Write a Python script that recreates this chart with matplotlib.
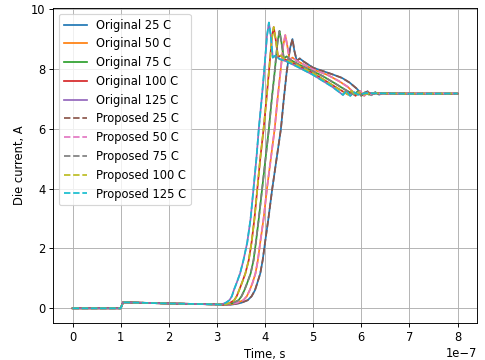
import numpy as np
import matplotlib.pyplot as plt

# temperatures and waveforms (time in ns, current in A)
temps = [25, 50, 75, 100, 125]

t_25 = [0, 100, 105, 200, 300, 330, 350, 364, 372, 379, 384, 390, 395, 400, 407, 415, 424, 433, 439, 445, 452, 457,
        461, 466, 472, 480, 500, 540, 560, 576, 590, 602, 613, 621, 629, 637, 645, 660, 700, 800]
i_25 = [0, 0, 0.2, 0.16, 0.13, 0.12, 0.18, 0.27, 0.4, 0.6, 0.85, 1.16, 1.6, 2.2, 3.0, 4.0, 5.0, 6.0, 7.0, 7.9, 8.7, 9.0,
        8.6, 8.27, 8.35, 8.25, 8.04, 7.82, 7.7, 7.54, 7.35, 7.15, 7.25, 7.12, 7.22, 7.14, 7.19, 7.17, 7.18, 7.17]

t_50 = [0, 100, 105, 200, 300, 325, 342, 355, 362, 368, 374, 380, 385, 390, 397, 404, 412, 420, 426, 432, 438, 442,
        446, 451, 457, 465, 500, 530, 555, 572, 588, 598, 606, 614, 621, 629, 645, 700, 800]
i_50 = [0, 0, 0.2, 0.16, 0.13, 0.12, 0.18, 0.27, 0.4, 0.6, 0.85, 1.16, 1.6, 2.2, 3.0, 4.0, 5.0, 6.0, 7.0, 7.9, 8.8, 9.13,
        8.8, 8.3, 8.38, 8.28, 7.98, 7.8, 7.58, 7.4, 7.15, 7.26, 7.1, 7.22, 7.14, 7.19, 7.17, 7.18, 7.17]

t_75 = [0, 100, 105, 200, 300, 320, 334, 345, 351, 357, 363, 370, 376, 381, 387, 394, 401, 408, 414, 420, 426, 430,
        434, 439, 445, 453, 470, 500, 520, 545, 565, 585, 593, 600, 608, 616, 632, 700, 800]
i_75 = [0, 0, 0.2, 0.16, 0.13, 0.12, 0.18, 0.27, 0.4, 0.6, 0.85, 1.16, 1.6, 2.2, 3.0, 4.0, 5.0, 6.0, 7.0, 7.9, 8.9, 9.27,
        8.9, 8.35, 8.42, 8.3, 8.15, 7.92, 7.76, 7.52, 7.32, 7.14, 7.26, 7.1, 7.22, 7.14, 7.19, 7.17, 7.17]

t_100 = [0, 100, 105, 200, 300, 315, 327, 336, 341, 346, 352, 359, 366, 372, 378, 384, 390, 397, 403, 408, 414, 418,
         422, 427, 433, 441, 456, 480, 500, 530, 550, 573, 580, 588, 595, 603, 620, 700, 800]
i_100 = [0, 0, 0.2, 0.16, 0.13, 0.12, 0.18, 0.27, 0.4, 0.6, 0.85, 1.16, 1.6, 2.2, 3.0, 4.0, 5.0, 6.0, 7.0, 7.9, 9.0, 9.4,
         9.0, 8.4, 8.45, 8.32, 8.22, 8.02, 7.86, 7.56, 7.36, 7.14, 7.27, 7.1, 7.22, 7.14, 7.19, 7.17, 7.18]

t_125 = [0, 100, 105, 200, 300, 308, 318, 326, 331, 335, 341, 348, 355, 363, 370, 376, 382, 387, 393, 398, 404, 408,
         412, 416, 422, 430, 445, 470, 500, 520, 540, 562, 569, 577, 585, 593, 610, 700, 800]
i_125 = [0, 0, 0.2, 0.16, 0.13, 0.12, 0.18, 0.27, 0.4, 0.6, 0.85, 1.16, 1.6, 2.2, 3.0, 4.0, 5.0, 6.0, 7.0, 7.9, 9.1, 9.55,
         9.1, 8.38, 8.45, 8.33, 8.25, 8.05, 7.8, 7.6, 7.4, 7.13, 7.27, 7.1, 7.22, 7.14, 7.19, 7.17, 7.18]

times = [t_25, t_50, t_75, t_100, t_125]
currents = [i_25, i_50, i_75, i_100, i_125]

dpi = 83
fig = plt.figure(figsize=(485 / dpi, 360 / dpi), dpi=dpi)
ax = fig.add_subplot(111)

for T, t, i in zip(temps, times, currents):
    ax.plot(np.array(t) * 1e-9, i, label="Original %d C" % T)
for T, t, i in zip(temps, times, currents):
    ax.plot(np.array(t) * 1e-9, i, '--', label="Proposed %d C" % T)

ax.set_xlabel("Time, s")
ax.set_ylabel("Die current, A")
ax.grid(True)
ax.legend(loc="upper left")
fig.subplots_adjust(left=0.110, right=0.983, bottom=0.104, top=0.977)
plt.savefig("out.png", dpi=dpi)
